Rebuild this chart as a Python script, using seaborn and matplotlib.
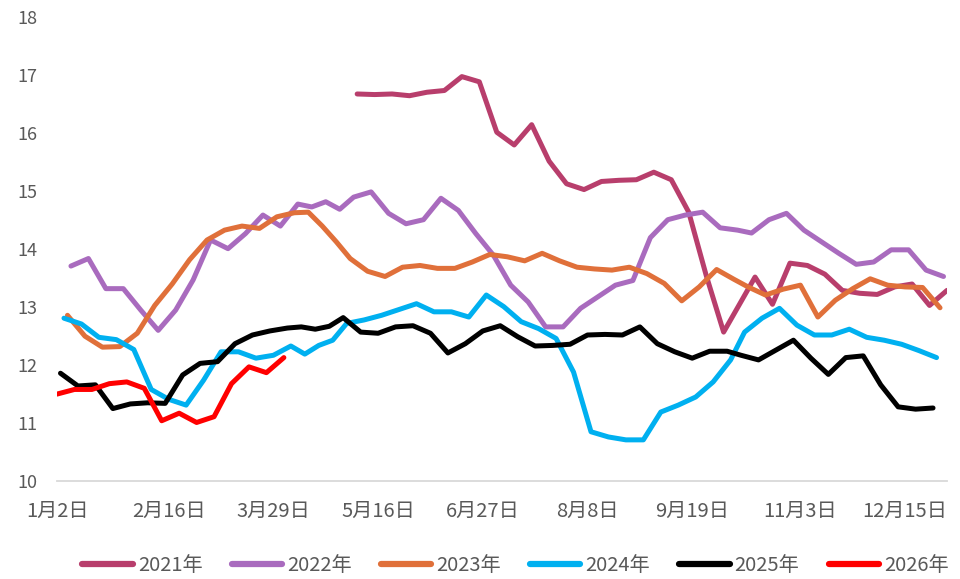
import re
import numpy as np
import pandas as pd
import seaborn as sns
import matplotlib.pyplot as plt

# weekly (Friday) values, one list per year
years = ["2021年", "2022年", "2023年", "2024年", "2025年", "2026年"]
starts = ["2021-05-07", "2022-01-07", "2023-01-06", "2024-01-05", "2025-01-03", "2026-01-02"]
colors = ["#B83E6C", "#A96BBE", "#E0703A", "#00B0F0", "#000000", "#FF0000"]

v2021 = [16.68, 16.67, 16.68, 16.65, 16.71, 16.74, 16.98, 16.89, 16.02, 15.80,
         16.15, 15.52, 15.13, 15.03, 15.17, 15.19, 15.20, 15.33, 15.20, 14.64,
         13.55, 12.57, np.nan, 13.52, 13.05, 13.76, 13.72, 13.57, 13.29, 13.24,
         13.22, 13.35, 13.40, 13.03, 13.29]
v2022 = [13.71, 13.84, 13.32, 13.32, 12.95, 12.60, 12.95, 13.47, 14.16, 14.01,
         14.27, 14.59, 14.40, 14.78, 14.73, 14.82, 14.69, 14.90, 14.99, 14.62,
         14.44, 14.51, 14.88, 14.67, 14.27, 13.90, 13.38, 13.09, 12.66, 12.66,
         12.98, 13.18, 13.38, 13.46, 14.20, 14.51, 14.59, 14.64, 14.37, 14.33,
         14.28, 14.51, 14.62, 14.33, 14.13, 13.93, 13.74, 13.78, 13.99, 13.99,
         13.64, 13.53]
v2023 = [12.86, 12.50, 12.31, 12.32, 12.55, 13.03, 13.40, 13.82, 14.16, 14.33,
         14.40, 14.36, 14.56, 14.63, 14.64, 14.40, 14.13, 13.84, 13.62, 13.53,
         13.69, 13.72, 13.67, 13.67, 13.78, 13.91, 13.87, 13.80, 13.93, 13.80,
         13.69, 13.66, 13.64, 13.69, 13.58, 13.41, 13.11, 13.35, 13.65, 13.48,
         13.35, 13.21, 13.31, 13.38, 12.83, 13.12, 13.32, 13.49, 13.38, 13.35,
         13.34, 12.99]
v2024 = [12.81, 12.71, 12.48, 12.44, 12.27, 11.58, 11.41, 11.31, 11.74, 12.23,
         12.23, 12.12, 12.17, 12.33, 12.19, 12.34, 12.43, 12.72, 12.78, 12.86,
         12.96, 13.06, 12.92, 12.92, 12.83, 13.21, 13.01, 12.75, 12.63, 12.46,
         11.88, 10.85, 10.76, 10.71, 10.71, 11.19, 11.31, 11.45, 11.71, 12.09,
         12.57, 12.81, 12.98, 12.69, 12.52, 12.52, 12.62, 12.48, 12.43, 12.36,
         12.25, 12.13]
v2025 = [11.86, 11.64, 11.66, 11.25, 11.33, 11.35, 11.34, 11.83, 12.03, 12.06,
         12.37, 12.52, 12.59, 12.64, 12.66, 12.62, 12.67, 12.82, 12.57, 12.55,
         12.66, 12.68, 12.55, 12.21, 12.37, 12.59, 12.68, 12.49, 12.33, 12.34,
         12.36, 12.52, 12.53, 12.52, 12.66, 12.37, 12.23, 12.12, 12.24, 12.24,
         12.17, 12.09, 12.26, 12.43, 12.12, 11.84, 12.13, 12.16, 11.66, 11.28,
         11.24, 11.26]
v2026 = [11.50, 11.58, 11.58, 11.68, 11.71, 11.60, 11.04, 11.17, 11.01, 11.11,
         11.68, 11.97, 11.87, 12.13]

tick_labels = ["1月2日", "2月16日", "3月29日", "5月16日", "6月27日",
               "8月8日", "9月19日", "11月3日", "12月15日"]

values = [v2021, v2022, v2023, v2024, v2025, v2026]

frames = []
for yr, st, vals in zip(years, starts, values):
    d = pd.DataFrame({"date": pd.date_range(st, periods=len(vals), freq="7D"),
                      "value": vals})
    d["year"] = yr
    frames.append(d.dropna())
df = pd.concat(frames, ignore_index=True)
df["md"] = df["date"].dt.strftime("%m-%d")

# category axis: union of month-day dates over all years
cats = sorted(df["md"].unique())
pos = {c: i for i, c in enumerate(cats)}
df["x"] = df["md"].map(pos)

sns.set_style("white")
plt.rcParams["font.family"] = ["Noto Sans CJK SC", "DejaVu Sans"]

fig = plt.figure(figsize=(9.6, 5.79), dpi=100)
ax = fig.add_axes([57 / 960, 1 - 481 / 579, 890 / 960, 463.5 / 579])

sns.lineplot(data=df, x="x", y="value", hue="year", hue_order=years,
             palette=colors, linewidth=3.6, estimator=None, ax=ax,
             solid_capstyle="round", solid_joinstyle="round", legend=True)

ax.set_xlim(0, len(cats) - 1)
ax.set_ylim(10, 18)
ax.set_yticks(range(10, 19))
tick_pos = []
for t in tick_labels:
    m, dd = re.match(r"(\d+)月(\d+)日", t).groups()
    tick_pos.append(pos[f"{int(m):02d}-{int(dd):02d}"])
ax.set_xticks(tick_pos)
ax.set_xticklabels(tick_labels)
ax.set_xlabel("")
ax.set_ylabel("")
ax.tick_params(axis="both", length=0, labelsize=13, colors="#595959")
ax.tick_params(axis="x", pad=14, labelsize=14.5)
ax.tick_params(axis="y", pad=14)
for lab in ax.get_xticklabels() + ax.get_yticklabels():
    lab.set_fontweight("light")
for s in ["top", "right", "left"]:
    ax.spines[s].set_visible(False)
ax.spines["bottom"].set_color("#D9D9D9")
ax.spines["bottom"].set_linewidth(1.3)

handles, labels = ax.get_legend_handles_labels()
ax.legend_.remove()
leg = fig.legend(handles, labels, loc="center", bbox_to_anchor=(0.537, 0.024),
                 ncol=6, frameon=False, fontsize=14.5, handlelength=2.5,
                 handletextpad=0.25, columnspacing=1.45)
for t in leg.get_texts():
    t.set_color("#595959")
    t.set_fontweight("light")
for h in leg.get_lines():
    h.set_linewidth(4.5)
    h.set_solid_capstyle("round")

fig.savefig("out.png", dpi=100)
